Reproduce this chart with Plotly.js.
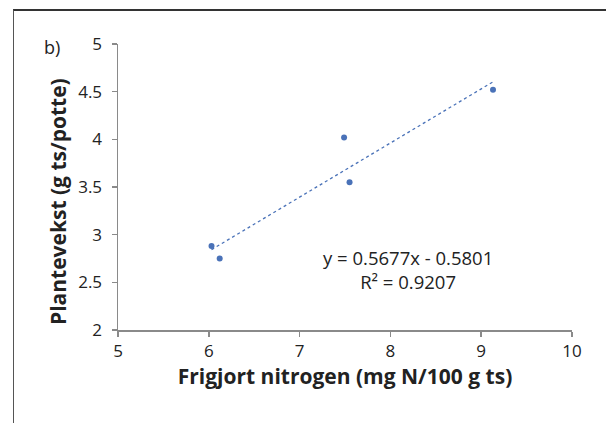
<!DOCTYPE html>
<html>
<head>
<meta charset="utf-8">
<script src="https://cdn.plot.ly/plotly-3.0.1.min.js"></script>
<style>
html,body{margin:0;padding:0;background:#fff;}
#wrap{position:relative;width:606px;height:423px;}
#chart{width:606px;height:423px;}
#frame{position:absolute;left:13px;top:9px;right:-2px;bottom:-2px;border-left:1.5px solid #555;border-top:2px solid #333;pointer-events:none;}
</style>
</head>
<body>
<div id="wrap"><div id="chart"></div><div id="frame"></div></div>
<script>
// Data
const nitrogen = [7.49, 7.55, 6.03, 6.12, 9.13];
const growth = [4.02, 3.55, 2.88, 2.75, 4.52];
const slope = 0.5677;
const intercept = -0.5801;
const equationLine = "y = 0.5677x - 0.5801";
const r2Line = "R² = 0.9207";
const xTitle = "Frigjort nitrogen (mg N/100 g ts)";
const yTitle = "Plantevekst (g ts/potte)";
const panelLabel = "b)";
const xTicks = [5, 6, 7, 8, 9, 10];
const yTicks = [2, 2.5, 3, 3.5, 4, 4.5, 5];

const xMin = Math.min(...nitrogen), xMax = Math.max(...nitrogen);
const trendX = [xMin, xMax];
const trendY = trendX.map(v => slope * v + intercept);

const blue = '#4a72b8';
const font = '"Open Sans", sans-serif';
const px = v => (v - 118) / 454;   // pixel -> paper x
const py = v => (330 - v) / 286;   // pixel -> paper y

const traces = [
  {x: trendX, y: trendY, mode: 'lines', type: 'scatter',
   line: {color: blue, width: 1.3, dash: 'dot'}, hoverinfo: 'skip'},
  {x: nitrogen, y: growth, mode: 'markers', type: 'scatter',
   marker: {color: blue, size: 6}}
];

const layout = {
  width: 606, height: 423,
  margin: {l: 118, r: 34, t: 44, b: 93},
  showlegend: false,
  paper_bgcolor: '#fff', plot_bgcolor: '#fff',
  font: {family: font, color: '#222', size: 17},
  xaxis: {
    range: [5, 10], tickvals: xTicks, ticktext: xTicks.map(String),
    showgrid: false, zeroline: false, showline: true, linecolor: '#8a8a8a', linewidth: 1.5,
    ticks: 'outside', ticklen: 5, tickcolor: '#8a8a8a', tickwidth: 1.5,
    tickfont: {size: 17, color: '#222', family: font},
    title: {text: '<b>' + xTitle + '</b>', font: {size: 21, color: '#222', family: font}, standoff: 2}
  },
  yaxis: {
    range: [2, 5], tickvals: yTicks, ticktext: yTicks.map(String),
    showgrid: false, zeroline: false, showline: true, linecolor: '#8a8a8a', linewidth: 1.5,
    ticks: 'outside', ticklen: 5, tickcolor: '#8a8a8a', tickwidth: 1.5,
    ticklabelstandoff: 6,
    tickfont: {size: 17, color: '#222', family: font}
  },
  annotations: [
    {xref: 'paper', yref: 'paper', x: px(58), y: py(202), textangle: -90,
     xanchor: 'center', yanchor: 'middle', text: '<b>' + yTitle + '</b>', showarrow: false,
     font: {size: 21, color: '#222', family: font}},
    {xref: 'paper', yref: 'paper', x: px(52), y: py(47),
     xanchor: 'center', yanchor: 'middle', text: panelLabel, showarrow: false,
     font: {size: 18, color: '#222', family: font}},
    {xref: 'paper', yref: 'paper', x: px(408), y: py(269),
     xanchor: 'center', yanchor: 'middle', align: 'center',
     text: equationLine + '<br>' + r2Line, showarrow: false,
     font: {size: 18.5, color: '#222', family: font}}
  ]
};

Plotly.newPlot('chart', traces, layout, {displayModeBar: false, staticPlot: true});
</script>
</body>
</html>
